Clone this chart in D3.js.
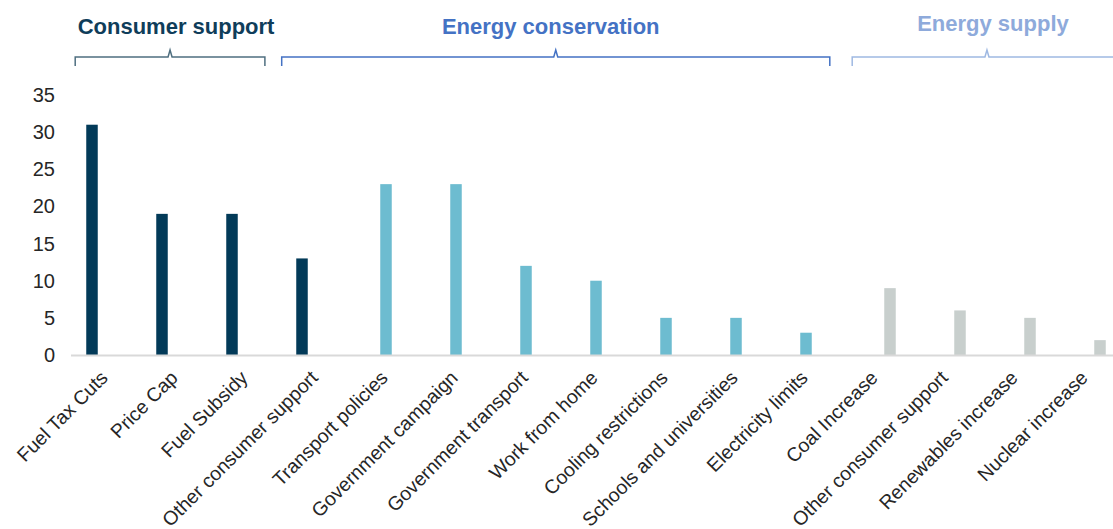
<!DOCTYPE html>
<html>
<head>
<meta charset="utf-8">
<script src="https://cdn.jsdelivr.net/npm/d3@7"></script>
<style>
  body { margin: 0; background: #fff; }
  text { font-family: "Liberation Sans", Arial, sans-serif; }
</style>
</head>
<body>
<div id="chart"></div>
<script>

var categories = ["Fuel Tax Cuts", "Price Cap", "Fuel Subsidy", "Other consumer support",
  "Transport policies", "Government campaign", "Government transport", "Work from home",
  "Cooling restrictions", "Schools and universities", "Electricity limits",
  "Coal Increase", "Other consumer support", "Renewables increase", "Nuclear increase"];
var values = [31, 19, 19, 13, 23, 23, 12, 10, 5, 5, 3, 9, 6, 5, 2];
var seriesOf = [0, 0, 0, 0, 1, 1, 1, 1, 1, 1, 1, 2, 2, 2, 2];
var seriesNames = ["Consumer support", "Energy conservation", "Energy supply"];
var yTicks = [0, 5, 10, 15, 20, 25, 30, 35];
// bracket spans in category units (start, end)
var groupSpans = [[-0.44, 2.27], [2.51, 10.34], [10.66, 14.51]];

var width = 1113,
  height = 529,
  margin = {top: 95, right: -8, bottom: 174, left: 71};

var barColors = ["#023a58", "#6dbcd0", "#c8cfcd"];
var headColors = ["#0f3d5a", "#4472c4", "#8eaadb"];
var bracketColors = ["#4f6f80", "#4472c4", "#9fb9e2"];
var headShift = [6, -5, 6];

var svg = d3.select("#chart").append("svg")
    .attr("width", width)
    .attr("height", height);

var x = d3.scaleBand()
    .domain(d3.range(categories.length))
    .range([margin.left, width - margin.right]);

// slot for each series inside a category
var xs = d3.scalePoint()
    .domain([0, 1, 2])
    .range([0, x.bandwidth()])
    .padding(1.5);

var y = d3.scaleLinear()
    .domain([0, 35])
    .range([height - margin.bottom, margin.top]);

// category index -> band centre (for annotations)
var xc = d3.scaleLinear()
    .domain([0, 1])
    .range([x(0) + x.bandwidth() / 2, x(1) + x.bandwidth() / 2]);

// y axis labels
svg.append("g")
  .selectAll("text")
  .data(yTicks)
  .enter().append("text")
    .attr("x", margin.left - 16)
    .attr("y", function(d) { return y(d); })
    .attr("dy", "0.35em")
    .attr("text-anchor", "end")
    .attr("font-size", 20)
    .attr("fill", "#262626")
    .text(function(d) { return d; });

// bars
var bw = 11.5;
svg.append("g")
  .selectAll("rect")
  .data(values)
  .enter().append("rect")
    .attr("x", function(d, i) { return x(i) + xs(seriesOf[i]) - bw / 2; })
    .attr("y", function(d) { return y(d); })
    .attr("width", bw)
    .attr("height", function(d) { return y(0) - y(d); })
    .attr("fill", function(d, i) { return barColors[seriesOf[i]]; });

// baseline
svg.append("line")
    .attr("x1", margin.left)
    .attr("x2", width)
    .attr("y1", y(0) + 0.5)
    .attr("y2", y(0) + 0.5)
    .attr("stroke", "#d9d9d9")
    .attr("stroke-width", 2);

// category labels
svg.append("g")
  .selectAll("text")
  .data(categories)
  .enter().append("text")
    .attr("transform", function(d, i) {
      return "translate(" + (xc(i) + 3) + "," + (y(0) + 24) + ") rotate(-45)";
    })
    .attr("text-anchor", "end")
    .attr("font-size", 19.5)
    .attr("fill", "#262626")
    .text(function(d) { return d; });

// group brackets
var br = svg.append("g").selectAll("g")
    .data(groupSpans)
  .enter().append("g");

br.append("path")
    .attr("fill", "none")
    .attr("stroke", function(d, i) { return bracketColors[i]; })
    .attr("stroke-width", 1.5)
    .attr("d", function(d) {
      var a = xc(d[0]), b = xc(d[1]), m = (a + b) / 2, ly = 57;
      return "M" + a + "," + (ly + 9) + "L" + a + "," + ly + "L" + (m - 2) + "," + ly +
        "L" + m + "," + (ly - 7) + "L" + (m + 2) + "," + ly + "L" + b + "," + ly + "L" + b + "," + (ly + 9);
    });

br.append("text")
    .attr("x", function(d, i) { return (xc(d[0]) + xc(d[1])) / 2 + headShift[i]; })
    .attr("y", function(d, i) { return i == 2 ? 31 : 34; })
    .attr("text-anchor", "middle")
    .attr("font-size", 22)
    .attr("font-weight", "bold")
    .attr("fill", function(d, i) { return headColors[i]; })
    .text(function(d, i) { return seriesNames[i]; });

</script>
</body>
</html>
